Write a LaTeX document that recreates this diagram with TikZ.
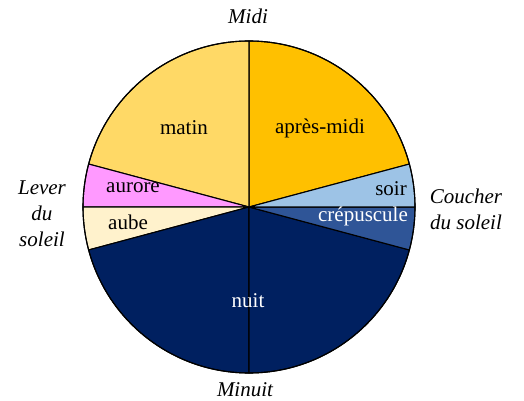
\documentclass[tikz,border=0pt]{standalone}
\usepackage{fontspec}
\setmainfont{Liberation Serif}
\definecolor{cmatin}{HTML}{FFD966}
\definecolor{capres}{HTML}{FFC000}
\definecolor{csoir}{HTML}{9DC3E6}
\definecolor{ccrep}{HTML}{2F5597}
\definecolor{cnuit}{HTML}{002060}
\definecolor{caube}{HTML}{FFF2CC}
\definecolor{caurore}{HTML}{FF99FF}
\begin{document}
\begin{tikzpicture}[x=1pt,y=1pt,
  slice/.style={draw=black,line width=1.1pt,line join=round},
  lbl/.style={font=\fontsize{21}{26}\selectfont,inner sep=0pt},
  ext/.style={font=\fontsize{21}{26}\selectfont\itshape,inner sep=0pt,align=center}]
\useasboundingbox (-249,-194) rectangle (275,207);
\def\R{166}
\coordinate (o) at (0,0);
\fill[slice,fill=capres] (o) -- (15:\R) arc[start angle=15,end angle=90,radius=\R] -- cycle;
\fill[slice,fill=cmatin] (o) -- (90:\R) arc[start angle=90,end angle=165,radius=\R] -- cycle;
\fill[slice,fill=caurore] (o) -- (165:\R) arc[start angle=165,end angle=180,radius=\R] -- cycle;
\fill[slice,fill=caube] (o) -- (180:\R) arc[start angle=180,end angle=195,radius=\R] -- cycle;
\fill[slice,fill=cnuit] (o) -- (195:\R) arc[start angle=195,end angle=270,radius=\R] -- cycle;
\fill[slice,fill=cnuit] (o) -- (270:\R) arc[start angle=270,end angle=345,radius=\R] -- cycle;
\fill[slice,fill=ccrep] (o) -- (345:\R) arc[start angle=345,end angle=360,radius=\R] -- cycle;
\fill[slice,fill=csoir] (o) -- (0:\R) arc[start angle=0,end angle=15,radius=\R] -- cycle;
\draw[slice] (o) circle[radius=\R];
\node[lbl] (matin) at (-65,79) {matin};
\node[lbl] (apres) at (71,79) {après-midi};
\node[lbl] (aurore) at (-116,19) {aurore};
\node[lbl] (aube) at (-121,-15) {aube};
\node[lbl] (soir) at (142,18) {soir};
\node[lbl,text=white] (crep) at (114,-9) {crépuscule};
\node[lbl,text=white] (nuit) at (-1,-94) {nuit};
\node[ext] (midi) at (-1,191) {Midi};
\node[ext] (minuit) at (-4,-183) {Minuit};
\node[ext] (lever) at (-207,-7) {Lever\\du\\soleil};
\node[ext] (coucher) at (217,-2) {Coucher\\du soleil};
\end{tikzpicture}
\end{document}
